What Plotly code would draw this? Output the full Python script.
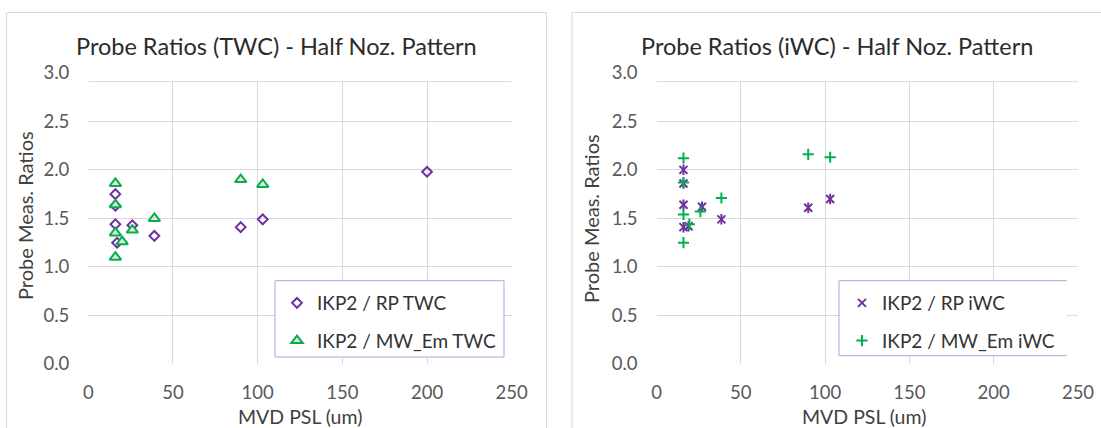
import plotly.graph_objects as go

W, H = 1101, 428

# Probe ratios versus MVD (um) - TWC panel
twc_rp_mvd = [16, 16, 16, 17, 26, 39, 90, 103, 200]
twc_rp_ratio = [1.75, 1.63, 1.44, 1.25, 1.43, 1.32, 1.41, 1.49, 1.98]
twc_mw_mvd = [16, 16, 16, 16, 20, 26, 39, 90, 103]
twc_mw_ratio = [1.86, 1.64, 1.35, 1.10, 1.26, 1.38, 1.50, 1.90, 1.85]

# Probe ratios versus MVD (um) - iWC panel
iwc_rp_mvd = [16, 16, 16, 16, 19, 27, 38.5, 90, 103]
iwc_rp_ratio = [2.00, 1.86, 1.64, 1.41, 1.42, 1.62, 1.49, 1.61, 1.70]
iwc_mw_mvd = [16, 16, 16, 16, 19.5, 26, 38.5, 90, 103]
iwc_mw_ratio = [2.12, 1.87, 1.54, 1.25, 1.44, 1.57, 1.71, 2.16, 2.13]

x_ticks = [0, 50, 100, 150, 200, 250]
y_ticks = [0.0, 0.5, 1.0, 1.5, 2.0, 2.5, 3.0]

FONT = "Lato"
PURPLE = "#7030A0"
GREEN = "#00B050"
GRID = "#D9D9D9"
TICK_COLOR = "#595959"
TEXT_COLOR = "#404040"


def px_x(p):
    return p / W


def px_y(p):
    return 1 - p / H


fig = go.Figure()

# Left panel: TWC
fig.add_trace(go.Scatter(
    x=twc_rp_mvd, y=twc_rp_ratio, mode="markers", name="IKP2 / RP TWC",
    marker=dict(symbol="diamond-open", size=7.5, color=PURPLE,
                line=dict(width=2, color=PURPLE)),
    xaxis="x", yaxis="y", legend="legend", legendgroup="a"))
fig.add_trace(go.Scatter(
    x=twc_mw_mvd, y=twc_mw_ratio, mode="markers", name="IKP2 / MW_Em TWC",
    marker=dict(symbol="triangle-up", size=10, color="#EFE6D2",
                line=dict(width=2, color=GREEN)),
    xaxis="x", yaxis="y", legend="legend", legendgroup="b"))

# Right panel: iWC (star marker = X plus vertical stroke)
fig.add_trace(go.Scatter(
    x=iwc_rp_mvd, y=iwc_rp_ratio, mode="markers", name="IKP2 / RP iWC",
    marker=dict(symbol="x-thin-open", size=8, color=PURPLE,
                line=dict(width=2, color=PURPLE)),
    xaxis="x2", yaxis="y2", legend="legend2", legendgroup="c"))
fig.add_trace(go.Scatter(
    x=iwc_rp_mvd, y=iwc_rp_ratio, mode="markers", name="IKP2 / RP iWC",
    marker=dict(symbol="line-ns-open", size=7.5, color=PURPLE,
                line=dict(width=2, color=PURPLE)),
    xaxis="x2", yaxis="y2", legend="legend2", legendgroup="c",
    showlegend=False))
fig.add_trace(go.Scatter(
    x=iwc_mw_mvd, y=iwc_mw_ratio, mode="markers", name="IKP2 / MW_Em iWC",
    marker=dict(symbol="cross-thin-open", size=8, color=GREEN,
                line=dict(width=2, color=GREEN)),
    xaxis="x2", yaxis="y2", legend="legend2", legendgroup="d"))

y_dom = [px_y(364), px_y(72.8)]
left_dom = [px_x(88.3), px_x(511.7)]
right_dom = [px_x(656.5), px_x(1078)]

tickfont = dict(family=FONT, size=18.5, color=TICK_COLOR)


def xaxis(domain, anchor):
    return dict(domain=domain, anchor=anchor, range=[0, 250],
                tickvals=x_ticks, ticktext=[str(v) for v in x_ticks],
                showgrid=True, gridcolor=GRID, gridwidth=1,
                zeroline=False, showline=False, ticks="", automargin=False,
                tickfont=tickfont, ticklabelstandoff=15, fixedrange=True)


def yaxis(anchor):
    return dict(domain=y_dom, anchor=anchor, range=[0, 3],
                tickvals=y_ticks, ticktext=[f"{v:.1f}" for v in y_ticks],
                showgrid=True, gridcolor=GRID, gridwidth=1,
                zeroline=False, showline=False, ticks="", automargin=False,
                tickfont=tickfont, ticklabelstandoff=18, fixedrange=True)


def path(points):
    return "M " + " L ".join(f"{px_x(a)},{px_y(b)}" for a, b in points)


shapes = []
# chart-area frames (they run past the bottom / right edge of the page)
shapes.append(dict(type="path", xref="paper", yref="paper",
                   path=path([(6.5, 428), (6.5, 12.5), (546.5, 12.5), (546.5, 428)]),
                   line=dict(color=GRID, width=1), layer="below"))
shapes.append(dict(type="path", xref="paper", yref="paper",
                   path=path([(572, 428), (572, 12.5), (1101, 12.5)]),
                   line=dict(color=GRID, width=1), layer="below"))
# plot areas end a little below the 3.0 label
for dom in (left_dom, right_dom):
    shapes.append(dict(type="rect", xref="paper", yref="paper",
                       x0=dom[0] - 2 / W, x1=dom[1] + 2 / W,
                       y0=px_y(81.7), y1=px_y(70),
                       line=dict(width=0), fillcolor="white", layer="above"))
    shapes.append(dict(type="line", xref="paper", yref="paper",
                       x0=dom[0], x1=dom[1], y0=px_y(81.7), y1=px_y(81.7),
                       line=dict(color=GRID, width=1), layer="above"))
# legend boxes
LEG_BORDER = "#9AB0D8"
shapes.append(dict(type="rect", xref="paper", yref="paper",
                   x0=px_x(275), x1=px_x(504), y0=px_y(357), y1=px_y(280.7),
                   line=dict(color=LEG_BORDER, width=1), fillcolor="white",
                   layer="above"))
shapes.append(dict(type="rect", xref="paper", yref="paper",
                   x0=px_x(839), x1=px_x(1066.7), y0=px_y(355.7), y1=px_y(280.7),
                   line=dict(width=0), fillcolor="white", layer="above"))
shapes.append(dict(type="path", xref="paper", yref="paper",
                   path=path([(1066.7, 280.7), (839, 280.7), (839, 355.7), (1066.7, 355.7)]),
                   line=dict(color=LEG_BORDER, width=1), layer="above"))

annotations = [
    dict(text="Probe Ratios (TWC) - Half Noz. Pattern", x=px_x(276), y=px_y(46),
         xref="paper", yref="paper", showarrow=False, xanchor="center",
         yanchor="middle", font=dict(family=FONT, size=23.5, color="#2B2B2B")),
    dict(text="Probe Ratios (iWC) - Half Noz. Pattern", x=px_x(837), y=px_y(46),
         xref="paper", yref="paper", showarrow=False, xanchor="center",
         yanchor="middle", font=dict(family=FONT, size=23.5, color="#2B2B2B")),
    dict(text="Probe Meas. Ratios", x=px_x(25), y=px_y(216), textangle=-90,
         xref="paper", yref="paper", showarrow=False, xanchor="center",
         yanchor="middle", font=dict(family=FONT, size=20, color=TEXT_COLOR)),
    dict(text="Probe Meas. Ratios", x=px_x(591), y=px_y(219), textangle=-90,
         xref="paper", yref="paper", showarrow=False, xanchor="center",
         yanchor="middle", font=dict(family=FONT, size=20, color=TEXT_COLOR)),
    dict(text="MVD PSL (um)", x=px_x(299.5), y=px_y(416),
         xref="paper", yref="paper", showarrow=False, xanchor="center",
         yanchor="middle", font=dict(family=FONT, size=19.5, color=TEXT_COLOR)),
    dict(text="MVD PSL (um)", x=px_x(864), y=px_y(416),
         xref="paper", yref="paper", showarrow=False, xanchor="center",
         yanchor="middle", font=dict(family=FONT, size=19.5, color=TEXT_COLOR)),
]

legend_common = dict(bgcolor="rgba(0,0,0,0)", borderwidth=0,
                     font=dict(family=FONT, size=19, color="#333333"),
                     tracegroupgap=10, xanchor="left", yanchor="top",
                     traceorder="grouped")

fig.update_layout(
    width=W, height=H,
    margin=dict(l=0, r=0, t=0, b=0, autoexpand=False),
    paper_bgcolor="white", plot_bgcolor="white",
    showlegend=True,
    xaxis=xaxis(left_dom, "y"),
    yaxis=yaxis("x"),
    xaxis2=xaxis(right_dom, "y2"),
    yaxis2=yaxis("x2"),
    legend=dict(x=px_x(277), y=px_y(284), **legend_common),
    legend2=dict(x=px_x(842), y=px_y(284), **legend_common),
    shapes=shapes,
    annotations=annotations,
)

fig.write_html("out.html")
